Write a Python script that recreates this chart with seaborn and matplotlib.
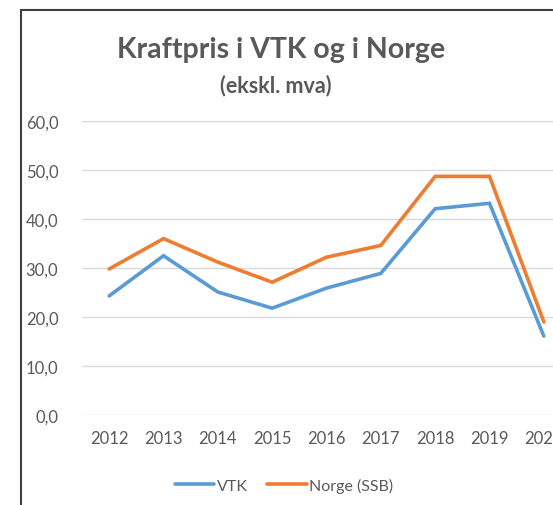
import matplotlib
matplotlib.use("Agg")
import matplotlib.pyplot as plt
import seaborn as sns
import pandas as pd
from matplotlib.patches import Rectangle
from matplotlib.lines import Line2D

years = ["2012", "2013", "2014", "2015", "2016", "2017", "2018", "2019", "2020"]
vtk = [24.3, 32.5, 25.1, 21.8, 25.9, 28.9, 42.1, 43.2, 16.1]
norge = [29.8, 36.0, 31.2, 27.1, 32.2, 34.6, 48.7, 48.7, 19.0]
series_names = ["VTK", "Norge (SSB)"]
yticks = [0, 10, 20, 30, 40, 50, 60]

sns.set_theme(style="white")
plt.rcParams['font.family'] = ['Lato', 'DejaVu Sans']

df = pd.DataFrame({
    "year": years * 2,
    "x": list(range(len(years))) * 2,
    "value": vtk + norge,
    "series": [series_names[0]] * len(years) + [series_names[1]] * len(years),
})

W, H = 553, 506
fig = plt.figure(figsize=(W / 100, H / 100), dpi=100)
fig.patch.set_facecolor("white")

left, right = 82 / W, 571 / W
top, bottom = 1 - 122 / H, 1 - 416 / H
ax = fig.add_axes([left, bottom, right - left, top - bottom])

palette = {"VTK": "#5B9BD5", "Norge (SSB)": "#ED7D31"}
sns.lineplot(data=df, x="x", y="value", hue="series", palette=palette,
             linewidth=2.6, ax=ax, legend=False, sort=False)
for ln in ax.lines:
    ln.set_solid_capstyle("round")
    ln.set_solid_joinstyle("miter")

ax.set_xlim(-0.5, len(years) - 0.5)
ax.set_ylim(0, 60)
ax.set_yticks(yticks)
ax.set_yticklabels([f"{v:.1f}".replace(".", ",") for v in yticks])
ax.set_xticks(range(len(years)))
ax.set_xticklabels(years)
ax.grid(axis="y", color="#D9D9D9", linewidth=1.0)
ax.set_axisbelow(True)
for s in ax.spines.values():
    s.set_visible(False)
ax.tick_params(axis="both", length=0, labelsize=12, labelcolor="#595959")
ax.tick_params(axis="y", pad=17)
ax.tick_params(axis="x", pad=11)
ax.set_xlabel("")
ax.set_ylabel("")

fig.add_artist(Rectangle((21 / W, -0.1), 1.2, 1 - 11 / H + 0.1,
                         transform=fig.transFigure, fill=False,
                         edgecolor="#404040", linewidth=1.5))

fig.text(281 / W, 1 - 50 / H, "Kraftpris i VTK og i Norge", ha="center", va="center",
         fontsize=20.5, fontweight="bold", color="#595959")
fig.text(276 / W, 1 - 86 / H, "(ekskl. mva)", ha="center", va="center",
         fontsize=15.5, fontweight="bold", color="#595959")

handles = [Line2D([0], [0], color=palette[n], linewidth=2.6, solid_capstyle="round")
           for n in series_names]
fig.legend(handles, series_names, loc="center", bbox_to_anchor=(284 / W, 1 - 486 / H),
           ncol=2, frameon=False, fontsize=11.5, handlelength=2.5, handletextpad=0.15,
           columnspacing=1.2, labelcolor="#595959")

fig.savefig("out.png", dpi=100)
